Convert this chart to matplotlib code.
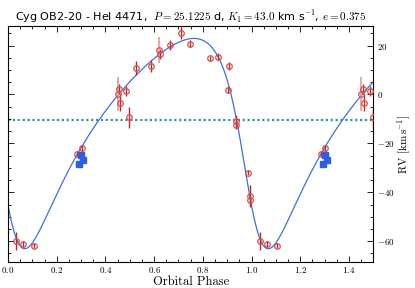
"""
Cyg OB2-20 He I 4471 radial velocity curve, phased on P = 25.1225 d
"""

import numpy as np
import matplotlib
matplotlib.use('Agg')
import matplotlib.pyplot as plt
from matplotlib.ticker import MultipleLocator

# Orbital solution (from the title / fitted curve)
period = 25.1225
k1 = 43.0
ecc = 0.375
omega_deg = 126.0
gamma = -10.6
phase_peri = 0.0

# RV measurements: phase, RV [km/s], error
red_phase = [0.033, 0.063, 0.105, 0.284, 0.303, 0.457, 0.461, 0.486, 0.497,
             0.527, 0.587, 0.626, 0.664, 0.711, 0.749, 0.828, 0.863, 0.906,
             0.905, 0.937, 0.938, 0.986, 0.995, 0.993]
red_rv = [-59.9, -61.2, -61.8, -24.2, -22.0, 2.2, -3.4, 1.5, -9.4,
          10.8, 11.6, 16.6, 20.3, 25.2, 20.8, 14.8, 15.5, 11.6,
          2.0, -11.0, -12.3, -32.0, -41.5, -43.0]
red_err = [3.7, 1.2, 1.0, 1.0, 1.5, 2.0, 3.4, 2.0, 4.4,
           3.0, 2.4, 2.0, 2.0, 2.7, 1.5, 1.0, 1.5, 1.5,
           1.5, 2.7, 2.0, 1.0, 4.4, 2.0]

# two noisier spectra drawn with faint error bars
faint_phase = [0.451, 0.620]
faint_rv = [0.3, 18.2]
faint_err = [7.0, 5.2]

# second data set (blue squares)
blue_phase = [0.292, 0.300, 0.308]
blue_rv = [-28.5, -24.9, -26.8]


def kepler_rv(phase):
    m = 2 * np.pi * (phase - phase_peri)
    e_anom = m.copy()
    for _ in range(50):
        e_anom = e_anom - (e_anom - ecc * np.sin(e_anom) - m) / (1 - ecc * np.cos(e_anom))
    nu = 2 * np.arctan2(np.sqrt(1 + ecc) * np.sin(e_anom / 2),
                        np.sqrt(1 - ecc) * np.cos(e_anom / 2))
    w = np.radians(omega_deg)
    return gamma + k1 * (np.cos(nu + w) + ecc * np.cos(w))


def extend(ph, vals):
    # repeat the first half of the cycle after phase 1
    ph = np.asarray(ph)
    vals = [np.asarray(v) for v in vals]
    sel = ph < 0.5
    return [np.concatenate([ph, ph[sel] + 1])] + [np.concatenate([v, v[sel]]) for v in vals]


def main():
    plt.rcParams['mathtext.fontset'] = 'cm'
    plt.rcParams['axes.formatter.use_mathtext'] = True

    fig = plt.figure(figsize=(4.15, 2.88), dpi=100)
    ax = fig.add_axes([0.0193, 0.0903, 0.8801, 0.8194])

    ph_model = np.linspace(0, 1.5, 600)
    ax.plot(ph_model, kepler_rv(ph_model), color='#3b6fe6', lw=0.9, zorder=2)
    ax.axhline(gamma, color='#2a9a98', ls=(0, (1, 1.2)), lw=1.6, zorder=1)

    x, y, err = extend(red_phase, [red_rv, red_err])
    ax.errorbar(x, y, yerr=err, fmt='o', ms=4, mfc='none', mec='#d45050', mew=0.9,
                ecolor='#c02828', elinewidth=1.0, capsize=0, zorder=3)
    x, y, err = extend(faint_phase, [faint_rv, faint_err])
    ax.errorbar(x, y, yerr=err, fmt='o', ms=4, mfc='none', mec='#d45050', mew=0.9,
                ecolor='#e09a9a', elinewidth=1.2, capsize=0, zorder=3)
    x, y = extend(blue_phase, [blue_rv])
    ax.plot(x, y, 's', ms=4.5, color='#2f5ee0', zorder=4)

    ax.set_xlim(0, 1.5)
    ax.set_ylim(-68.5, 28)
    ax.xaxis.set_major_locator(MultipleLocator(0.2))
    ax.xaxis.set_minor_locator(MultipleLocator(0.05))
    ax.yaxis.set_major_locator(MultipleLocator(20))
    ax.yaxis.set_minor_locator(MultipleLocator(5))
    ax.tick_params(which='both', direction='in', top=True, right=True, left=True,
                   labelleft=False, labelright=True, labelsize=6.5, width=0.6)
    ax.tick_params(which='major', length=4, pad=2.5)
    ax.tick_params(which='minor', length=2)
    for lab in ax.get_xticklabels() + ax.get_yticklabels():
        lab.set_fontfamily('cmr10')
    for sp in ax.spines.values():
        sp.set_linewidth(0.8)

    ax.set_xlabel('Orbital Phase', fontfamily='cmr10', fontsize=9, labelpad=0)
    ax.yaxis.set_label_position('right')
    ax.set_ylabel(r'RV [$\mathrm{km\,s^{-1}}$]', fontfamily='cmr10', fontsize=8, labelpad=1)
    ax.set_title(r'Cyg OB2-20 - HeI 4471,  $P = 25.1225$ d, $K_1 = 43.0$ km s$^{-1}$, $e = 0.375$',
                 fontsize=8, pad=4)

    fig.savefig('out.png', dpi=100)


if __name__ == '__main__':
    main()
